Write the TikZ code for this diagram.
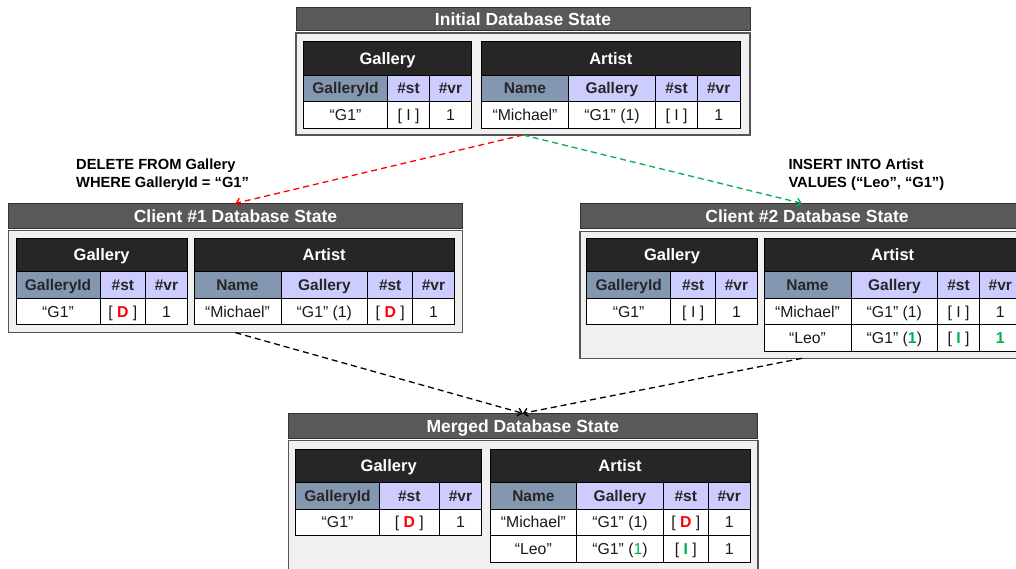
\documentclass[tikz,border=0pt]{standalone}
\usepackage{fontspec}
\setmainfont{Liberation Sans}
\usetikzlibrary{arrows.meta}

\definecolor{barfill}{HTML}{595959}
\definecolor{barline}{HTML}{333333}
\definecolor{panelfill}{HTML}{F0F0F0}
\definecolor{panelline}{HTML}{555555}
\definecolor{headfill}{HTML}{262626}
\definecolor{keyfill}{HTML}{8497B0}
\definecolor{colfill}{HTML}{CCCCFF}
\definecolor{inktxt}{HTML}{262626}
\definecolor{valtxt}{HTML}{1A1A1A}
\definecolor{delred}{HTML}{FF0000}
\definecolor{insgreen}{HTML}{00B050}

\newcommand\fs[1]{\fontsize{#1}{#1}\selectfont}
\newcommand\Del{{\color{delred}\bfseries D}}
\newcommand\Ins{{\color{insgreen}\bfseries I}}
\newcommand\gone{{\color{insgreen}1}}
\newcommand\gbone{{\color{insgreen}\bfseries 1}}

% one table row: prefix, style of first cell, style of other cells, start point, width/text list
\newcommand\tablerow[5]{%
  \foreach \colw/\colt [count=\ci] in {#5}{%
    \ifnum\ci=1
      \node[#2, cw=\colw] (#1-\ci) at (#4) {\colt};
    \else
      \pgfmathtruncatemacro\cprev{\ci-1}%
      \node[#3, cw=\colw] (#1-\ci) at (#1-\cprev.north east) {\colt};
    \fi}}

\tikzset{
  cw/.style={minimum width=#1pt},
  bar/.style={draw=barline, line width=1pt, fill=barfill, text=white,
    font=\fs{17.5}\bfseries, text height=12.5pt, text depth=0pt,
    inner sep=0pt, outer sep=0pt, anchor=north west},
  panel/.style={draw=panelline, line width=1.5pt, fill=panelfill,
    inner sep=0pt, outer sep=0pt, anchor=north west},
  cell/.style={draw=black, line width=1pt, inner sep=0pt, outer sep=0pt,
    anchor=north west, minimum height=26.6pt},
  thead/.style={cell, fill=headfill, text=white, font=\fs{16.5}\bfseries,
    text height=11.8pt, text depth=0pt, minimum height=33.4pt},
  tkey/.style={cell, fill=keyfill, text=inktxt, font=\fs{15.5}\bfseries,
    text height=11.1pt, text depth=0pt},
  tcol/.style={tkey, fill=colfill},
  tval/.style={cell, fill=white, text=valtxt, font=\fs{15.8},
    text height=11.3pt, text depth=0pt},
  flow/.style={line width=1.3pt, dash pattern=on 6pt off 4pt,
    -{Straight Barb[length=4pt,width=8pt]}},
  sql/.style={font=\fontsize{14.7}{18.3}\selectfont\bfseries, align=left,
    inner sep=0pt, anchor=west},
}

\begin{document}
\begin{tikzpicture}[x=1pt,y=-1pt]
\useasboundingbox (0,0) rectangle (1016,569);
\clip (0,0) rectangle (1016,569);

% ---------------- initial state ----------------
\node[bar, minimum width=454pt, minimum height=23.5pt] (ibar) at (296,7.5) {Initial Database State};
\node[panel, minimum width=454pt, minimum height=102pt] (ibody) at (296,33) {};

\node[thead, cw=168.4] (ig) at (303.3,41.7) {Gallery};
\tablerow{ig-h}{tkey}{tcol}{ig.south west}{84.4/GalleryId, 41.6/\#st, 42.4/\#vr}
\tablerow{ig-r1}{tval}{tval}{ig-h-1.south west}{84.4/“G1”, 41.6/[ I ], 42.4/1}

\node[thead, cw=258.3] (ia) at (481.7,41.7) {Artist};
\tablerow{ia-h}{tkey}{tcol}{ia.south west}{86.6/Name, 87.4/Gallery, 41.6/\#st, 42.7/\#vr}
\tablerow{ia-r1}{tval}{tval}{ia-h-1.south west}{86.6/“Michael”, 87.4/“G1” (1), 41.6/[ I ], 42.7/1}

% ---------------- client 1 ----------------
\node[bar, minimum width=454.4pt, minimum height=25pt] (c1bar) at (8.3,203.3) {Client \#1 Database State};
\node[panel, minimum width=454.4pt, minimum height=102pt] (c1body) at (8.3,230.7) {};

\node[thead, cw=171.3] (c1g) at (16,238.3) {Gallery};
\tablerow{c1g-h}{tkey}{tcol}{c1g.south west}{84/GalleryId, 45.7/\#st, 41.6/\#vr}
\tablerow{c1g-r1}{tval}{tval}{c1g-h-1.south west}{84/“G1”, 45.7/[ \Del\ ], 41.6/1}

\node[thead, cw=260.3] (c1a) at (194,238.3) {Artist};
\tablerow{c1a-h}{tkey}{tcol}{c1a.south west}{87/Name, 86.7/Gallery, 45/\#st, 41.6/\#vr}
\tablerow{c1a-r1}{tval}{tval}{c1a-h-1.south west}{87/“Michael”, 86.7/“G1” (1), 45/[ \Del\ ], 41.6/1}

% ---------------- client 2 ----------------
\node[bar, minimum width=454pt, minimum height=25pt] (c2bar) at (580,203.3) {Client \#2 Database State};
\node[panel, minimum width=454pt, minimum height=126.6pt] (c2body) at (580,231.7) {};

\node[thead, cw=170.6] (c2g) at (586.7,238.3) {Gallery};
\tablerow{c2g-h}{tkey}{tcol}{c2g.south west}{84/GalleryId, 45/\#st, 41.6/\#vr}
\tablerow{c2g-r1}{tval}{tval}{c2g-h-1.south west}{84/“G1”, 45/[ I ], 41.6/1}

\node[thead, cw=257.3] (c2a) at (764,238.3) {Artist};
\tablerow{c2a-h}{tkey}{tcol}{c2a.south west}{87/Name, 86.7/Gallery, 41.6/\#st, 42/\#vr}
\tablerow{c2a-r1}{tval}{tval}{c2a-h-1.south west}{87/“Michael”, 86.7/“G1” (1), 41.6/[ I ], 42/1}
\tablerow{c2a-r2}{tval}{tval}{c2a-r1-1.south west}{87/“Leo”, 86.7/“G1” (\gbone), 41.6/[ \Ins\ ], 42/\gbone}

% ---------------- merged state ----------------
\node[bar, minimum width=469pt, minimum height=25pt] (mbar) at (288.3,413.3) {Merged Database State};
\node[panel, minimum width=469.5pt, minimum height=140pt] (mbody) at (288.3,440.7) {};

\node[thead, cw=186] (mg) at (295.7,449) {Gallery};
\tablerow{mg-h}{tkey}{tcol}{mg.south west}{83.6/GalleryId, 60/\#st, 42.4/\#vr}
\tablerow{mg-r1}{tval}{tval}{mg-h-1.south west}{83.6/“G1”, 60/[ \Del\ ], 42.4/1}

\node[thead, cw=260] (ma) at (490,449) {Artist};
\tablerow{ma-h}{tkey}{tcol}{ma.south west}{86.7/Name, 86.6/Gallery, 45/\#st, 41.7/\#vr}
\tablerow{ma-r1}{tval}{tval}{ma-h-1.south west}{86.7/“Michael”, 86.6/“G1” (1), 45/[ \Del\ ], 41.7/1}
\tablerow{ma-r2}{tval}{tval}{ma-r1-1.south west}{86.7/“Leo”, 86.6/“G1” (\gone), 45/[ \Ins\ ], 41.7/1}

% ---------------- operations ----------------
\node[sql] (q1) at (76,175) {DELETE FROM Gallery\\WHERE GalleryId = “G1”};
\node[sql] (q2) at (788.3,175) {INSERT INTO Artist\\VALUES (“Leo”, “G1”)};

\draw[flow, draw=delred] (ibody.south) -- (c1bar.north);
\draw[flow, draw=insgreen] (ibody.south) -- ([xshift=221.7pt]c2bar.north west);
\draw[flow, draw=black] (c1body.south) -- (mbar.north);
\draw[flow, draw=black] ([xshift=222pt]c2body.south west) -- (mbar.north);
\end{tikzpicture}
\end{document}
